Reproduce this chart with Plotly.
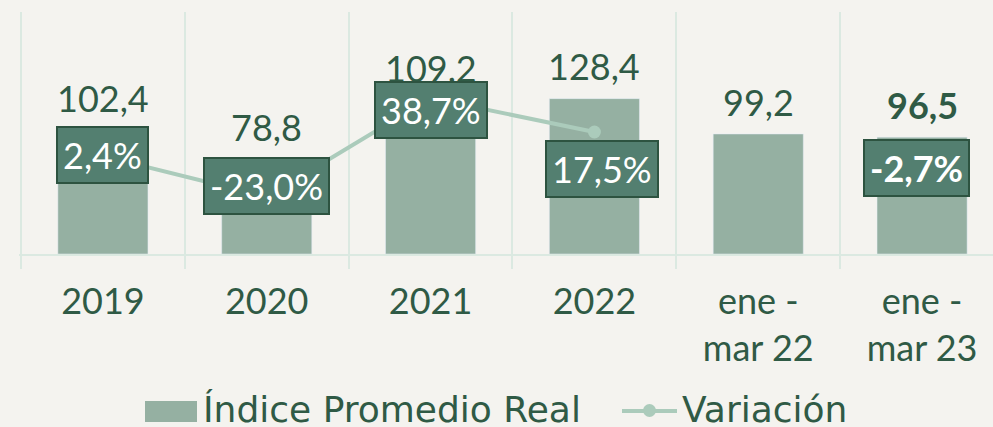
import plotly.graph_objects as go

# ---- data ----
categories = ["2019", "2020", "2021", "2022", "ene -<br>mar 22", "ene -<br>mar 23"]
indice = [102.4, 78.8, 109.2, 128.4, 99.2, 96.5]
variacion = [2.4, -23.0, 38.7, 17.5, None, -2.7]
bold_last = [False, False, False, False, False, True]
legend_labels = ["Índice Promedio Real", "Variación"]

# ---- styling ----
BG = "#f4f3ef"
BAR = "#95b0a2"
LINE = "#abcbbb"
TXT = "#2f5a45"
BOX = "#537f70"
BOXB = "#2d5340"
GRID = "#dbe9e1"
FONT = "Lato"
LFONT = "DejaVu Sans"
FS = 36

# label pixel offsets (style only)
val_yshift = [32, 32, 54, 33, 32, 32]
var_yshift = [1, 11, -12, -37, 0, -4]
var_xshift = [0, 0, 0, 8, 0, -6]


def fmt(v, dec=1):
    return f"{v:.{dec}f}".replace(".", ",")


fig = go.Figure()
fig.add_trace(go.Bar(x=categories, y=indice, marker_color=BAR, width=0.55,
                     name=legend_labels[0], showlegend=False,
                     hoverinfo="skip"))
fig.add_trace(go.Scatter(x=categories, y=variacion, yaxis="y2", mode="lines+markers",
                         line=dict(color=LINE, width=4),
                         marker=dict(color=LINE, size=13),
                         connectgaps=False, name=legend_labels[1], showlegend=False,
                         hoverinfo="skip"))

ann = []
for i, v in enumerate(indice):
    t = fmt(v)
    if bold_last[i]:
        t = f"<b>{t}</b>"
    ann.append(dict(x=i, y=v, xref="x", yref="y", text=t, showarrow=False,
                    yanchor="middle", yshift=val_yshift[i],
                    font=dict(family=FONT, size=FS, color=TXT)))
for i, v in enumerate(variacion):
    if v is None:
        continue
    t = fmt(v) + "%"
    if bold_last[i]:
        t = f"<b>{t}</b>"
    ann.append(dict(x=i, y=v, xref="x", yref="y2", text=t, showarrow=False,
                    yanchor="middle", yshift=var_yshift[i], xshift=var_xshift[i],
                    bgcolor=BOX, bordercolor=BOXB, borderwidth=2, borderpad=5,
                    font=dict(family=FONT, size=FS, color="white")))

# custom legend
W, H = 993, 427
L, R, T, B = 19, 0, 12, 173
pw, ph = W - L - R, H - T - B


def px(x):
    return (x - L) / pw


def py(y):
    return (H - B - y) / ph


shapes = [
    dict(type="rect", xref="paper", yref="paper", x0=px(145), x1=px(197),
         y0=py(422), y1=py(401), fillcolor=BAR, line=dict(width=0)),
    dict(type="line", xref="paper", yref="paper", x0=px(622), x1=px(677),
         y0=py(411), y1=py(411), line=dict(color=LINE, width=4)),
    dict(type="circle", xref="paper", yref="paper", x0=px(643), x1=px(656),
         y0=py(417), y1=py(404), fillcolor=LINE, line=dict(width=0)),
]
ann.append(dict(x=px(201), y=py(409), xref="paper", yref="paper",
                text=legend_labels[0], showarrow=False, xanchor="left",
                yanchor="middle", font=dict(family=LFONT, size=FS, color=TXT)))
ann.append(dict(x=px(680), y=py(409), xref="paper", yref="paper",
                text=legend_labels[1], showarrow=False, xanchor="left",
                yanchor="middle", font=dict(family=LFONT, size=FS, color=TXT)))

fig.update_layout(
    width=W, height=H,
    margin=dict(l=L, r=R, t=T, b=B),
    paper_bgcolor=BG, plot_bgcolor=BG,
    showlegend=False,
    annotations=ann, shapes=shapes,
    xaxis=dict(type="category", tickson="boundaries", showgrid=True,
               gridcolor=GRID, gridwidth=2, ticks="outside", ticklen=13,
               tickcolor=GRID, tickwidth=2, showline=True, linecolor=GRID,
               linewidth=2, range=[-0.5 - 2 / 164, 5.5 - 11 / 164],
               ticklabelstandoff=15,
               tickfont=dict(family=FONT, size=FS, color=TXT)),
    yaxis=dict(range=[0, 200], visible=False, showgrid=False, zeroline=False),
    yaxis2=dict(range=[-58.75, 92.5], overlaying="y", visible=False,
                showgrid=False, zeroline=False),
)

fig.write_html("out.html", config={"displayModeBar": False},
               post_script="document.body.style.margin='0px';document.body.style.overflow='hidden';")
